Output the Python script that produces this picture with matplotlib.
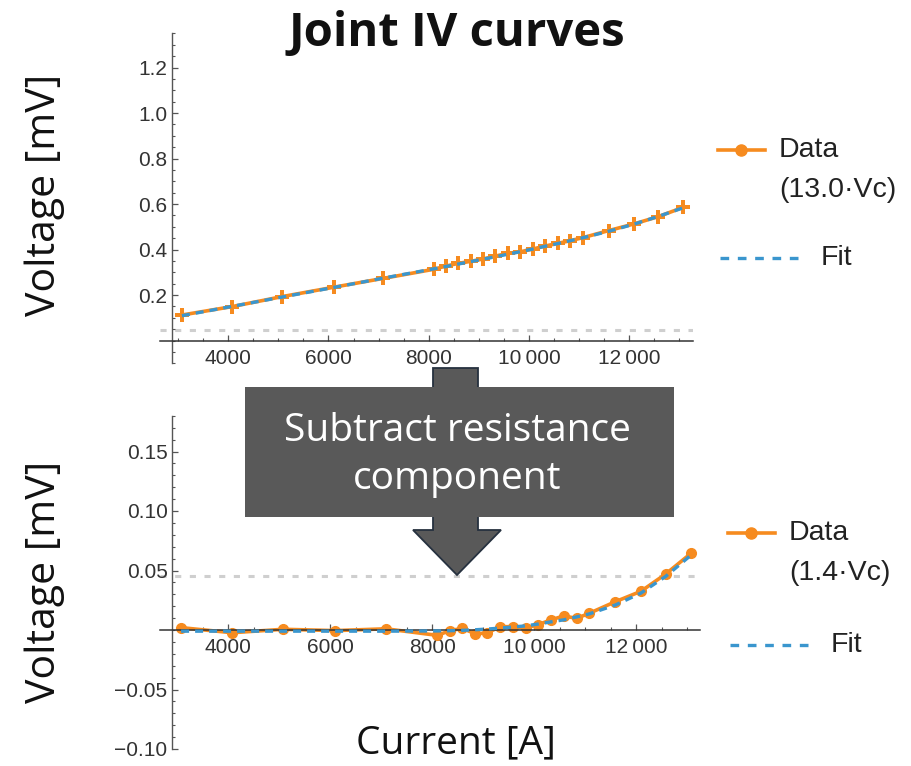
import numpy as np
import matplotlib
matplotlib.use("Agg")
import matplotlib.pyplot as plt
from matplotlib.lines import Line2D
from matplotlib.patches import Rectangle, Polygon
from matplotlib.ticker import MultipleLocator, FixedLocator, FixedFormatter

plt.rcParams['font.family'] = ['Liberation Sans', 'DejaVu Sans']

# currents [A] (same for both panels)
current = [3075, 4075, 5075, 6100, 7090, 8100, 8340, 8590, 8840, 9075, 9330,
           9575, 9830, 10075, 10320, 10575, 10830, 11075, 11590, 12090, 12575, 13075]

# raw joint voltage [mV]
v_top_data = [0.112, 0.149, 0.193, 0.234, 0.273, 0.313, 0.327, 0.339, 0.348, 0.358, 0.371,
              0.383, 0.390, 0.402, 0.415, 0.427, 0.439, 0.452, 0.483, 0.512, 0.544, 0.585]
v_top_fit = [0.109, 0.150, 0.191, 0.233, 0.274, 0.315, 0.325, 0.336, 0.347, 0.357, 0.368,
             0.379, 0.3905, 0.402, 0.414, 0.426, 0.439, 0.4515, 0.480, 0.511, 0.545, 0.583]

# after subtracting the resistive part [mV]
v_bot_data = [0.002, -0.0023, 0.0006, -0.0005, 0.001, -0.0045, -0.0006, 0.0014, -0.0032, -0.0025, 0.0028,
              0.0028, 0.0017, 0.0045, 0.0084, 0.0118, 0.0098, 0.014, 0.0238, 0.0325, 0.047, 0.0645]
v_bot_fit = [-0.001, -0.001, -0.001, -0.001, -0.001, -0.0008, -0.0006, -0.0003, 0.0002, 0.0008, 0.0016,
             0.0025, 0.0035, 0.005, 0.0068, 0.0085, 0.011, 0.0135, 0.021, 0.031, 0.045, 0.063]

vc = 0.045  # critical voltage criterion [mV]

x_ticks = [4000, 6000, 8000, 10000, 12000]
x_ticklabels = ['4000', '6000', '8000', '10\u2009000', '12\u2009000']

ORANGE = '#F68B1F'
BLUE = '#3A96CE'
GREY = '#cfcfcf'
AXC = '#555555'

W, H = 912, 766
fig = plt.figure(figsize=(W / 100, H / 100), dpi=100)


def fx(x):
    return x / W


def fy(y):
    return 1 - y / H


def style_axes(ax, xlim, ylim, yaxis_at, yticks, ylabels, yminor):
    ax.set_xlim(*xlim)
    ax.set_ylim(*ylim)
    ax.patch.set_alpha(0)
    for s in ['top', 'right']:
        ax.spines[s].set_visible(False)
    ax.spines['left'].set_position(('data', yaxis_at))
    ax.spines['bottom'].set_position(('data', 0))
    ax.spines['left'].set_color(AXC)
    ax.spines['bottom'].set_color('#333333')
    ax.spines['left'].set_linewidth(1.0)
    ax.spines['bottom'].set_linewidth(1.1)
    ax.xaxis.set_major_locator(FixedLocator(x_ticks))
    ax.xaxis.set_major_formatter(FixedFormatter(x_ticklabels))
    ax.xaxis.set_minor_locator(MultipleLocator(500))
    ax.yaxis.set_major_locator(FixedLocator(yticks))
    ax.yaxis.set_major_formatter(FixedFormatter(ylabels))
    ax.yaxis.set_minor_locator(MultipleLocator(yminor))
    ax.tick_params(which='both', direction='in', colors=AXC, labelcolor='#333333', labelsize=15)
    ax.tick_params(which='major', length=4.5, width=0.9)
    ax.tick_params(which='minor', length=2.5, width=0.8)
    ax.tick_params(axis='x', pad=6)
    ax.tick_params(axis='y', pad=3)


# ---- top panel ----
ax1 = fig.add_axes([fx(160), fy(363.25), (693 - 160) / W, (363.25 - 33.4) / H])
style_axes(ax1, (2637, 13275), (-0.1, 1.35), 2870,
           [0.2, 0.4, 0.6, 0.8, 1.0, 1.2], ['0.2', '0.4', '0.6', '0.8', '1.0', '1.2'], 0.05)
ax1.axhline(vc, color=GREY, lw=2.2, dashes=(2.0, 2.8), zorder=1)
ax1.plot(current, v_top_data, color=ORANGE, lw=2.6, marker='P', ms=10, mew=0, zorder=2)
ax1.plot(current, v_top_fit, color=BLUE, lw=2.4, dashes=(2.4, 1.8), zorder=3)

# ---- bottom panel ----
ax2 = fig.add_axes([fx(160), fy(749), (700 - 160) / W, (749 - 415.8) / H])
style_axes(ax2, (2661, 13249), (-0.10, 0.18), 2890,
           [-0.10, -0.05, 0.05, 0.10, 0.15], ['\u22120.10', '\u22120.05', '0.05', '0.10', '0.15'], 0.01)
ax2.axhline(vc, color=GREY, lw=2.2, dashes=(2.0, 2.8), zorder=1)
ax2.plot(current, v_bot_data, color=ORANGE, lw=2.6, marker='o', ms=7, zorder=2)
ax2.plot(current, v_bot_fit, color=BLUE, lw=2.4, dashes=(2.4, 1.8), zorder=3)

# ---- titles / axis labels ----
fig.text(fx(457), fy(33), 'Joint IV curves', ha='center', va='center',
         fontsize=34, fontweight='bold', family='Open Sans', color='#111111')
fig.text(fx(45), fy(195), 'Voltage [mV]', rotation=90, ha='center', va='center',
         fontsize=29.5, family='Open Sans', color='#111111')
fig.text(fx(45), fy(582), 'Voltage [mV]', rotation=90, ha='center', va='center',
         fontsize=29.5, family='Open Sans', color='#111111')
fig.text(fx(456), fy(743), 'Current [A]', ha='center', va='center',
         fontsize=28, family='Open Sans', color='#111111')

# ---- legends ----
def legend(x0, y_data, y_fit, label2):
    fig.add_artist(Line2D([fx(x0), fx(x0 + 47)], [fy(y_data), fy(y_data)], color=ORANGE, lw=2.6,
                          transform=fig.transFigure))
    fig.add_artist(Line2D([fx(x0 + 23)], [fy(y_data)], color=ORANGE, marker='o', ms=8,
                          transform=fig.transFigure))
    fig.text(fx(x0 + 61), fy(y_data), 'Data', ha='left', va='center', fontsize=20.5, color='#222222')
    fig.text(fx(x0 + 61), fy(y_data + 40), label2, ha='left', va='center', fontsize=20.5, color='#222222')
    fig.add_artist(Line2D([fx(x0 + 2), fx(x0 + 84)], [fy(y_fit), fy(y_fit)], color=BLUE, lw=2.4,
                          dashes=(2.6, 2.6), transform=fig.transFigure))
    fig.text(fx(x0 + 103), fy(y_fit), 'Fit', ha='left', va='center', fontsize=20.5, color='#222222')


legend(718, 150, 258, '(13.0\u00b7Vc)')
legend(728, 533, 645, '(1.4\u00b7Vc)')

# ---- "subtract resistance" arrow + box ----
arrow = Polygon([(fx(433), fy(368)), (fx(478), fy(368)), (fx(478), fy(530)), (fx(501), fy(530)),
                 (fx(457), fy(575)), (fx(413), fy(530)), (fx(433), fy(530))],
                closed=True, facecolor='#595959', edgecolor='#26313f', lw=1.3,
                transform=fig.transFigure, zorder=5)
fig.add_artist(arrow)
box = Rectangle((fx(245), fy(517)), (674 - 245) / W, (517 - 387) / H, facecolor='#595959',
                edgecolor='none', transform=fig.transFigure, zorder=6)
fig.add_artist(box)
fig.text(fx(457), fy(455), 'Subtract resistance\ncomponent', ha='center', va='center',
         fontsize=28, family='Open Sans', color='white', linespacing=1.35, zorder=7)

fig.savefig('out.png', dpi=100)
